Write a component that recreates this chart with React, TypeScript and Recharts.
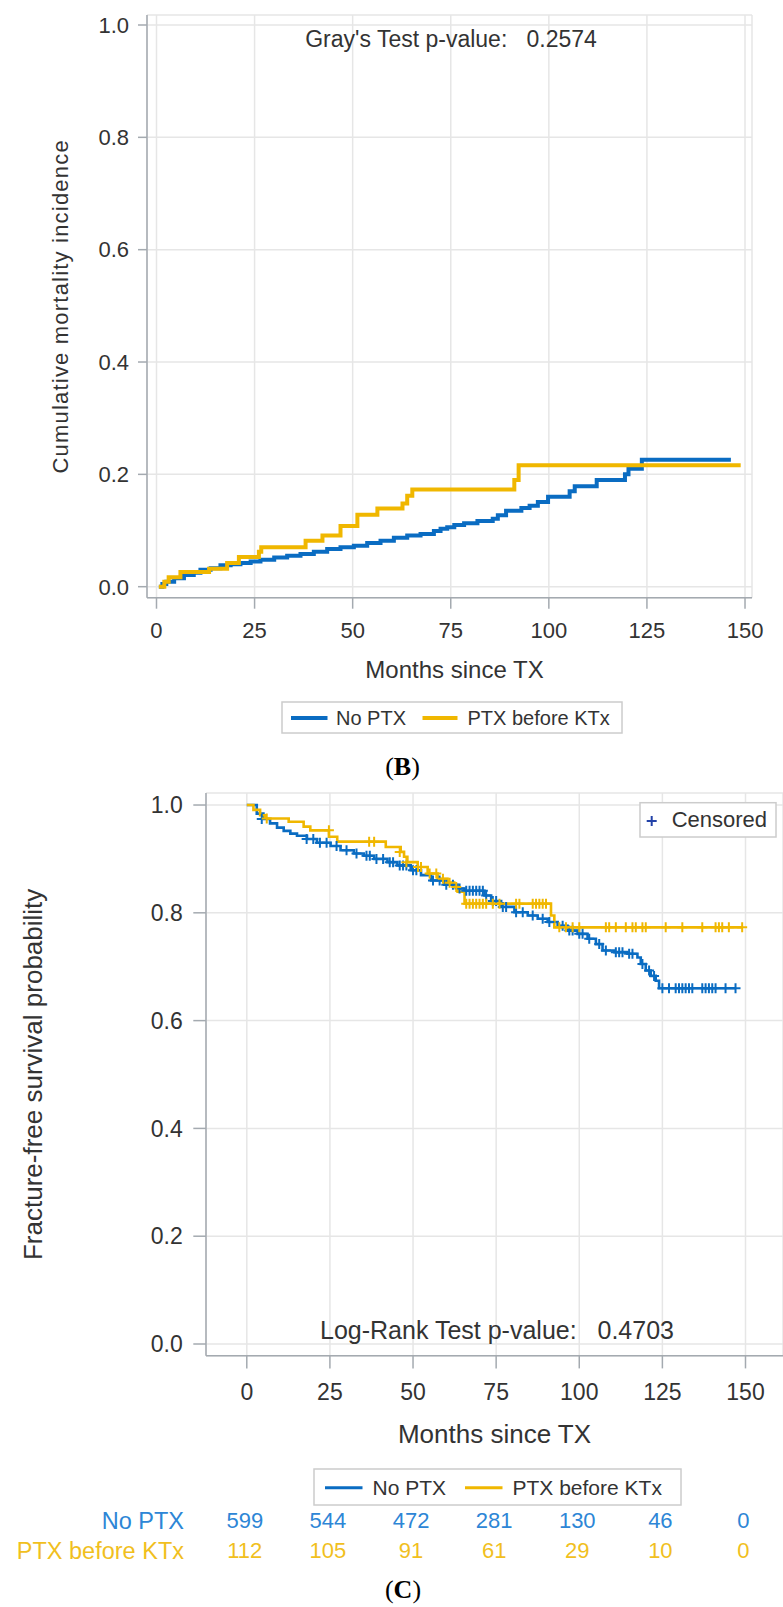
import React from 'react';
import { ComposedChart, Line, Scatter, XAxis, YAxis, CartesianGrid } from 'recharts';

// ---------- data ----------
const monthTicks = [0, 25, 50, 75, 100, 125, 150];
const probTicks = [0, 0.2, 0.4, 0.6, 0.8, 1.0];
const groupNames = ['No PTX', 'PTX before KTx'];

// (B) cumulative mortality incidence: [month, incidence]
const cifNoPtx: [number, number][] = [
  [0.6, 0], [1.5, 0.005], [2.5, 0.009], [4.5, 0.015], [7, 0.021], [9.5, 0.025], [11.2, 0.03],
  [13.8, 0.033], [16.3, 0.038], [18.9, 0.04], [21.4, 0.042], [24, 0.045], [26.5, 0.048],
  [30, 0.052], [33.3, 0.055], [36.7, 0.058], [40.1, 0.062], [43.5, 0.067], [46.9, 0.07],
  [50.3, 0.073], [53.7, 0.078], [57.1, 0.082], [60.5, 0.087], [63.9, 0.091], [67.3, 0.094],
  [70.7, 0.099], [72.4, 0.103], [74.1, 0.106], [75.9, 0.11], [78.4, 0.113], [81.8, 0.117],
  [85.7, 0.121], [87, 0.127], [89.1, 0.135], [93, 0.14], [95.1, 0.144], [97.2, 0.151],
  [99.8, 0.16], [105.3, 0.17], [106.6, 0.179], [112.2, 0.19], [119.4, 0.2], [120.3, 0.21],
  [123.7, 0.226], [146.4, 0.226],
];
const cifPtx: [number, number][] = [
  [0.6, 0], [2, 0.009], [3.1, 0.017], [6.1, 0.026], [13.4, 0.032], [18, 0.042], [21, 0.053],
  [26.1, 0.062], [26.7, 0.07], [38, 0.082], [42.3, 0.091], [46.9, 0.108], [51.2, 0.128],
  [56.3, 0.139], [62.7, 0.148], [63.9, 0.162], [65.2, 0.173], [91.2, 0.19], [92.3, 0.216],
  [148.9, 0.216],
];

// (C) fracture-free survival: [month, probability]
const kmNoPtx: [number, number][] = [
  [0, 1], [3, 0.984], [5, 0.974], [7, 0.966], [9.1, 0.958], [11.1, 0.952], [13.1, 0.947],
  [15.1, 0.943], [18.1, 0.937], [21.1, 0.93], [25.2, 0.924], [28.2, 0.916], [32.2, 0.91],
  [35.2, 0.906], [38.3, 0.9], [42.3, 0.894], [45.3, 0.888], [49.3, 0.879], [52.4, 0.87],
  [55.4, 0.86], [59.4, 0.852], [63.4, 0.845], [65.5, 0.841], [71.5, 0.832], [73.5, 0.822],
  [76.5, 0.811], [80.5, 0.801], [84.5, 0.795], [87.5, 0.789], [90.5, 0.783], [93.5, 0.776],
  [96.5, 0.767], [99.5, 0.761], [102.5, 0.752], [105, 0.742], [107, 0.73], [110.5, 0.727],
  [114.5, 0.724], [117.5, 0.717], [118.5, 0.705], [120, 0.693], [121.5, 0.683], [123, 0.674],
  [124, 0.66], [147, 0.66],
];
const kmPtx: [number, number][] = [
  [0, 1], [2, 0.991], [4, 0.981], [5.5, 0.975], [12.6, 0.969], [17.1, 0.96], [19.1, 0.953],
  [24.7, 0.941], [27.2, 0.932], [41.8, 0.922], [46.3, 0.913], [47.3, 0.904], [48.3, 0.894],
  [51.4, 0.885], [54.4, 0.873], [57.4, 0.863], [60.4, 0.856], [62.4, 0.848], [63.4, 0.839],
  [65.5, 0.817], [91.5, 0.795], [92.5, 0.773], [149, 0.773],
];
const censNoPtx: [number, number][] = [
  [4.5, 0.974], [18, 0.937], [20, 0.937], [22, 0.93], [24, 0.93], [27, 0.924], [30, 0.916],
  [33, 0.91], [36, 0.906], [37, 0.906], [39, 0.9], [41, 0.9], [43, 0.894], [44, 0.894],
  [46, 0.888], [47, 0.888], [48, 0.888], [50, 0.879], [51, 0.879], [56, 0.86], [58, 0.86],
  [60, 0.852], [62, 0.852], [64, 0.845], [66, 0.841], [67, 0.841], [68, 0.841], [69, 0.841],
  [70, 0.841], [71, 0.841], [72, 0.832], [74, 0.822], [75, 0.822], [77, 0.811], [78, 0.811],
  [81, 0.801], [83, 0.801], [86, 0.795], [89, 0.789], [91, 0.783], [95, 0.776], [97, 0.767],
  [98, 0.767], [100, 0.761], [101, 0.761], [103, 0.752], [106, 0.742], [108, 0.73],
  [111, 0.727], [112, 0.727], [113, 0.727], [115, 0.724], [116, 0.724], [119, 0.705],
  [121, 0.693], [122.5, 0.683], [125, 0.66], [127, 0.66], [129, 0.66], [130, 0.66],
  [131, 0.66], [132, 0.66], [133, 0.66], [134, 0.66], [137, 0.66], [138, 0.66], [139, 0.66],
  [140, 0.66], [141, 0.66], [144, 0.66], [147, 0.66],
];
const censPtx: [number, number][] = [
  [6, 0.975], [24.7, 0.953], [36.8, 0.932], [38.3, 0.932], [46, 0.913], [48, 0.894],
  [51.5, 0.885], [52.4, 0.885], [55, 0.873], [57, 0.873], [59, 0.863], [61, 0.856],
  [63, 0.848], [66, 0.817], [67, 0.817], [68, 0.817], [69, 0.817], [70, 0.817], [71, 0.817],
  [72, 0.817], [74, 0.817], [76, 0.817], [81, 0.817], [82, 0.817], [86, 0.817], [87, 0.817],
  [88, 0.817], [89, 0.817], [90, 0.817], [94, 0.773], [96, 0.773], [98, 0.773], [100, 0.773],
  [108, 0.773], [109, 0.773], [111, 0.773], [114, 0.773], [116, 0.773], [117, 0.773],
  [119, 0.773], [120, 0.773], [126, 0.773], [131, 0.773], [137, 0.773], [141, 0.773],
  [142, 0.773], [143, 0.773], [145, 0.773], [149, 0.773],
];
const atRiskNoPtx = [599, 544, 472, 281, 130, 46, 0];
const atRiskPtx = [112, 105, 91, 61, 29, 10, 0];

// ---------- styling ----------
const BLUE = '#0a6cc2';
const YELLOW = '#f0b700';
const BLUE_TXT = '#2d86d6';
const YELLOW_TXT = '#f1bf1e';
const AXIS = '#a4aab0';
const GRID = '#e6e6e6';
const TXT = '#333333';
const FONT = '"Liberation Sans", Arial, Helvetica, sans-serif';

const toObj = (arr: [number, number][]) => arr.map(([t, v]) => ({ t, v }));

const CensorMark = (props: any) => {
  const { cx, cy, fill } = props;
  if (cx == null || cy == null) return null;
  return <path d={`M${cx - 5},${cy}h10M${cx},${cy - 5}v10`} stroke={fill} strokeWidth={2} fill="none" />;
};

const RiskTick = (props: any) => {
  const { x, y, payload } = props;
  const i = monthTicks.indexOf(payload.value);
  return (
    <g>
      <text x={x} y={y} dy="0.71em" textAnchor="middle" fontSize={23} fill={TXT} fontFamily={FONT}>{payload.value}</text>
      <text x={x - 2} y={y + 145} textAnchor="middle" fontSize={22} fill={BLUE_TXT} fontFamily={FONT}>{atRiskNoPtx[i]}</text>
      <text x={x - 2} y={y + 175} textAnchor="middle" fontSize={22} fill={YELLOW_TXT} fontFamily={FONT}>{atRiskPtx[i]}</text>
    </g>
  );
};

function TopChart() {
  return (
    <ComposedChart width={783} height={700} margin={{ top: 15, right: 31, left: 0, bottom: 0 }}>
      <CartesianGrid stroke={GRID} strokeWidth={1.5} />
      <XAxis
        type="number" dataKey="t" domain={[-2.42, 151.78]} allowDataOverflow ticks={monthTicks}
        height={102.3} tickSize={11} tickMargin={14} stroke={AXIS} strokeWidth={1.5}
        tick={{ fontSize: 22, fill: TXT, fontFamily: FONT }}
        label={{ value: 'Months since TX', position: 'insideBottom', offset: 22, fontSize: 24, fill: TXT, fontFamily: FONT, dx: 5 }}
      />
      <YAxis
        type="number" dataKey="v" domain={[-0.0196, 1.0178]} allowDataOverflow ticks={probTicks}
        width={147} tickSize={9} tickMargin={9} stroke={AXIS} strokeWidth={1.5}
        tickFormatter={(v: number) => v.toFixed(1)}
        tick={{ fontSize: 22, fill: TXT, fontFamily: FONT }}
        label={{ value: 'Cumulative mortality incidence', angle: -90, position: 'insideLeft', offset: 60, fontSize: 22, fill: TXT, fontFamily: FONT, style: { textAnchor: 'middle', letterSpacing: 1.2 } }}
      />
      <Line data={toObj(cifNoPtx)} dataKey="v" name={groupNames[0]} type="stepAfter" stroke={BLUE} strokeWidth={4} dot={false} isAnimationActive={false} />
      <Line data={toObj(cifPtx)} dataKey="v" name={groupNames[1]} type="stepAfter" stroke={YELLOW} strokeWidth={4} dot={false} isAnimationActive={false} />
    </ComposedChart>
  );
}

function BottomChart() {
  return (
    <ComposedChart width={783} height={827} margin={{ top: 13, right: 0, left: 0, bottom: 156.3 }}>
      <CartesianGrid stroke={GRID} strokeWidth={1.5} />
      <XAxis
        type="number" dataKey="t" domain={[-12.27, 161.28]} allowDataOverflow ticks={monthTicks}
        height={95} tickSize={12.7} tickMargin={15} stroke={AXIS} strokeWidth={1.5}
        tick={<RiskTick />}
        label={{ value: 'Months since TX', position: 'insideBottom', offset: 8, fontSize: 26, fill: TXT, fontFamily: FONT }}
      />
      <YAxis
        type="number" dataKey="v" domain={[-0.0217, 1.0223]} allowDataOverflow ticks={probTicks}
        width={206} tickSize={12.7} tickMargin={10.6} stroke={AXIS} strokeWidth={1.5}
        tickFormatter={(v: number) => v.toFixed(1)}
        tick={{ fontSize: 23, fill: TXT, fontFamily: FONT }}
        label={{ value: 'Fracture-free survival probability', angle: -90, position: 'insideLeft', offset: 32.6, fontSize: 26, fill: TXT, fontFamily: FONT, style: { textAnchor: 'middle' } }}
      />
      <Line data={toObj(kmNoPtx)} dataKey="v" name={groupNames[0]} type="stepAfter" stroke={BLUE} strokeWidth={2.6} dot={false} isAnimationActive={false} />
      <Line data={toObj(kmPtx)} dataKey="v" name={groupNames[1]} type="stepAfter" stroke={YELLOW} strokeWidth={2.6} dot={false} isAnimationActive={false} />
      <Scatter data={toObj(censNoPtx)} dataKey="v" fill={BLUE} shape={<CensorMark />} isAnimationActive={false} />
      <Scatter data={toObj(censPtx)} dataKey="v" fill={YELLOW} shape={<CensorMark />} isAnimationActive={false} />
    </ComposedChart>
  );
}

function Overlay() {
  return (
    <svg width={783} height={1607} style={{ position: 'absolute', left: 0, top: 0, pointerEvents: 'none' }} fontFamily={FONT}>
      {/* (B) annotations */}
      <text x={451} y={46.7} textAnchor="middle" fontSize={23} fill={TXT} xmlSpace="preserve" style={{ whiteSpace: 'pre' }}>{"Gray's Test p-value:   0.2574"}</text>
      <rect x={282} y={702} width={340} height={31} fill="#fff" stroke="#cccccc" strokeWidth={1.5} />
      <line x1={291} x2={327.5} y1={718} y2={718} stroke={BLUE} strokeWidth={4} />
      <text x={336} y={725} fontSize={20} fill={TXT}>{groupNames[0]}</text>
      <line x1={422.5} x2={457.5} y1={718} y2={718} stroke={YELLOW} strokeWidth={4} />
      <text x={467.5} y={725} fontSize={20} fill={TXT}>{groupNames[1]}</text>
      <text x={402.5} y={775} textAnchor="middle" fontSize={26} fill="#000" fontFamily='"Liberation Serif", "Times New Roman", serif'>(<tspan fontWeight="bold">B</tspan>)</text>

      {/* (C) annotations */}
      <rect x={640} y={802.7} width={136} height={34.3} fill="#fff" stroke="#cccccc" strokeWidth={1.5} />
      <path d="M646.7,821h10M651.7,816v10" stroke="#2342a8" strokeWidth={2} />
      <text x={671.7} y={827} fontSize={22} fill={TXT}>Censored</text>
      <text x={497} y={1339.3} textAnchor="middle" fontSize={25} fill={TXT} xmlSpace="preserve" style={{ whiteSpace: 'pre' }}>{'Log-Rank Test p-value:   0.4703'}</text>
      <rect x={314} y={1469} width={367} height={36} fill="#fff" stroke="#cccccc" strokeWidth={1.5} />
      <line x1={325} x2={362.5} y1={1487.7} y2={1487.7} stroke={BLUE} strokeWidth={3} />
      <text x={372.5} y={1495} fontSize={21} fill={TXT}>{groupNames[0]}</text>
      <line x1={465} x2={502.5} y1={1487.7} y2={1487.7} stroke={YELLOW} strokeWidth={3} />
      <text x={512.5} y={1495} fontSize={21} fill={TXT}>{groupNames[1]}</text>
      <text x={184} y={1528.5} textAnchor="end" fontSize={23.5} fill={BLUE_TXT}>{groupNames[0]}</text>
      <text x={184} y={1558.5} textAnchor="end" fontSize={23.5} fill={YELLOW_TXT}>{groupNames[1]}</text>
      <text x={403} y={1598} textAnchor="middle" fontSize={26} fill="#000" fontFamily='"Liberation Serif", "Times New Roman", serif'>(<tspan fontWeight="bold">C</tspan>)</text>
    </svg>
  );
}

export default function App() {
  return (
    <div style={{ position: 'absolute', left: 0, top: 0, width: 783, height: 1607, background: '#fff', fontFamily: FONT, overflow: 'hidden' }}>
      <div style={{ position: 'absolute', left: 0, top: 0 }}>
        <TopChart />
      </div>
      <div style={{ position: 'absolute', left: 0, top: 780 }}>
        <BottomChart />
      </div>
      <Overlay />
    </div>
  );
}
